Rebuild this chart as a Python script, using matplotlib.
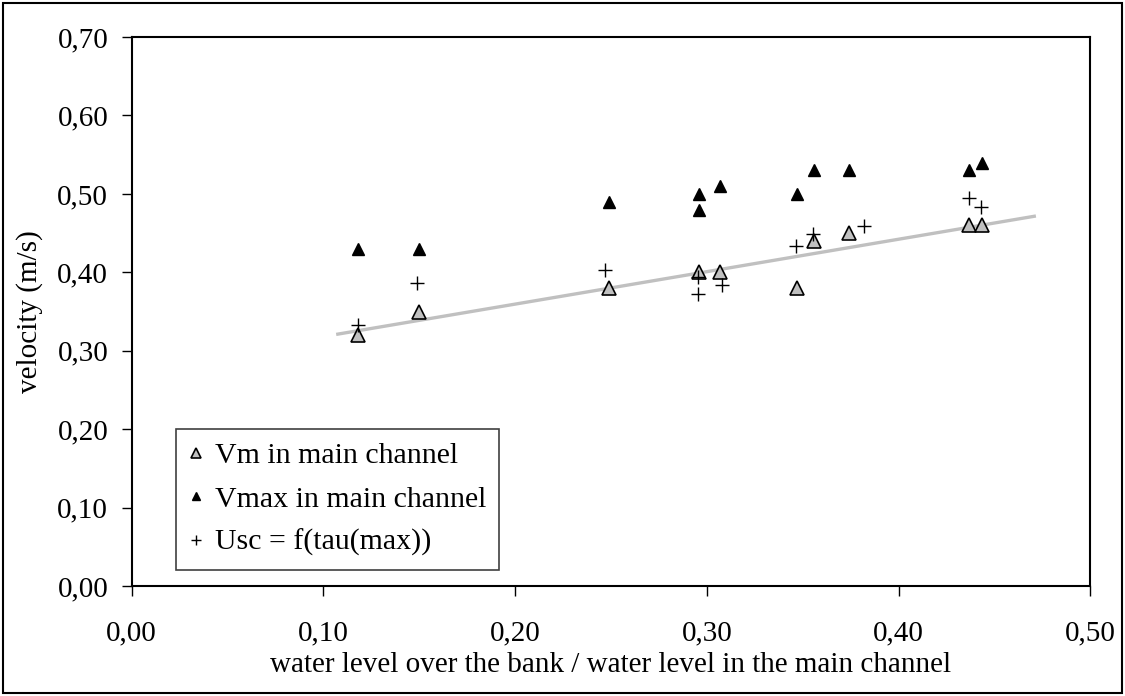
import numpy as np
import matplotlib
matplotlib.use('Agg')
import matplotlib.pyplot as plt
from matplotlib.ticker import FuncFormatter, MultipleLocator
from matplotlib.patches import Rectangle

plt.rcParams['font.family'] = ['Liberation Serif', 'DejaVu Serif']

# values
vm_x = [0.118, 0.150, 0.249, 0.296, 0.307, 0.347, 0.356, 0.374, 0.4365, 0.4436]
vm_y = [0.32, 0.35, 0.38, 0.40, 0.40, 0.38, 0.44, 0.45, 0.46, 0.46]

vmax_x = [0.118, 0.150, 0.249, 0.296, 0.296, 0.307, 0.347, 0.356, 0.374, 0.4365, 0.4436]
vmax_y = [0.43, 0.43, 0.49, 0.50, 0.48, 0.51, 0.50, 0.53, 0.53, 0.53, 0.54]

usc_x = [0.118, 0.1486, 0.2467, 0.2954, 0.2954, 0.3077, 0.3464, 0.3553, 0.3820, 0.4367, 0.4429]
usc_y = [0.333, 0.387, 0.403, 0.3945, 0.372, 0.384, 0.434, 0.4486, 0.459, 0.4945, 0.4838]

trend_range = [0.1075, 0.4708]


def comma_fmt(v, pos):
    return f'{v:.2f}'.replace('.', ',')


fig = plt.figure(figsize=(11.25, 6.96), dpi=100)
ax = fig.add_axes([0.1171, 0.158, 0.852, 0.7888])

# linear trend of Vm
k, b = np.polyfit(vm_x, vm_y, 1)
tx = np.array(trend_range)
ax.plot(tx, k * tx + b, color='#c0c0c0', lw=2.4, zorder=1)

ax.plot(vm_x, vm_y, ls='none', marker='^', ms=9.5, mfc='#c0c0c0', mec='black',
        mew=1.2, label='Vm in main channel', zorder=3)
ax.plot(vmax_x, vmax_y, ls='none', marker='^', ms=8.5, mfc='black', mec='black',
        label='Vmax in main channel', zorder=3)
ax.plot(usc_x, usc_y, ls='none', marker='+', ms=9.5, color='black', mew=1.0,
        label='Usc = f(tau(max))', zorder=4)

ax.set_xlim(0, 0.5)
ax.set_ylim(0, 0.7)
ax.xaxis.set_major_locator(MultipleLocator(0.1))
ax.yaxis.set_major_locator(MultipleLocator(0.1))
ax.xaxis.set_major_formatter(FuncFormatter(comma_fmt))
ax.yaxis.set_major_formatter(FuncFormatter(comma_fmt))
ax.tick_params(direction='out', length=7, width=1, labelsize=21)
ax.tick_params(axis='x', pad=18)
ax.tick_params(axis='y', pad=10)
for s in ax.spines.values():
    s.set_linewidth(1.5)

ax.set_xlabel('water level over the bank / water level in the main channel', fontsize=21, labelpad=4)
ax.set_ylabel('velocity (m/s)', fontsize=21, labelpad=10)

leg = ax.legend(loc='upper left', bbox_to_anchor=(0.046, 0.286), fontsize=21.5,
                frameon=True, fancybox=False, edgecolor='#404040', framealpha=1,
                markerscale=0.7, handlelength=0.45, handletextpad=0.4,
                labelspacing=0.55, borderpad=0.45, borderaxespad=0)
leg.get_frame().set_linewidth(1.2)

fig.patches.append(Rectangle((0.003, 0.005), 0.994, 0.99, transform=fig.transFigure,
                             fill=False, edgecolor='black', lw=1.5))

fig.savefig('out.png', dpi=100)
